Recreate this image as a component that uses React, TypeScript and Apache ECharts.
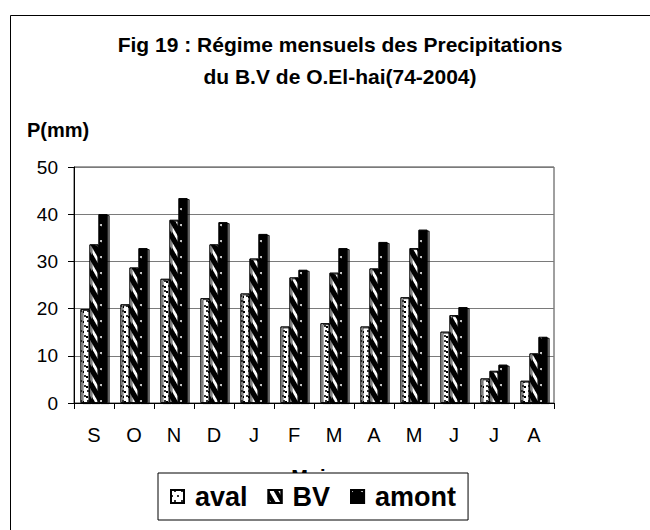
import React, { useEffect, useRef } from 'react';
import * as echarts from 'echarts';

const months = ['S', 'O', 'N', 'D', 'J', 'F', 'M', 'A', 'M', 'J', 'J', 'A'];
const aval = [19.9, 20.9, 26.3, 22.2, 23.2, 16.2, 16.9, 16.2, 22.4, 15.1, 5.2, 4.7];
const bv = [33.6, 28.7, 38.8, 33.6, 30.6, 26.6, 27.6, 28.5, 32.8, 18.6, 6.8, 10.5];
const amont = [40.0, 32.8, 43.4, 38.3, 35.8, 28.2, 32.8, 34.1, 36.7, 20.3, 8.1, 14.0];
const seriesNames = ['aval', 'BV', 'amont'];
const yMin = 0;
const yMax = 50;
const yInterval = 10;

const titleLine1 = 'Fig 19 : Régime mensuels des Precipitations';
const titleLine2 = 'du B.V de O.El-hai(74-2004)';
const yName = 'P(mm)';
const xName = 'Mois';

const FONT = '"Liberation Sans", Arial, sans-serif';

export default function App() {
  const ref = useRef<HTMLDivElement>(null);
  useEffect(() => {
    if (!ref.current) return;
    const chart = echarts.init(ref.current, null, { renderer: 'svg' });
    const shadow = {
      shadowColor: 'rgba(0,0,0,0.45)',
      shadowOffsetX: 2,
      shadowOffsetY: 1,
      shadowBlur: 0,
    };
    const option: any = {
      animation: false,
      backgroundColor: '#fff',
      textStyle: { fontFamily: FONT },
      title: {
        text: titleLine1 + '\n' + titleLine2,
        left: 335,
        top: 23,
        textAlign: 'center',
        textStyle: {
          fontFamily: FONT,
          fontSize: 21,
          fontWeight: 'bold',
          color: '#000',
          lineHeight: 32,
        },
      },
      graphic: [
        {
          type: 'rect',
          silent: true,
          shape: { x: 10.5, y: 15.5, width: 700, height: 600 },
          style: { fill: 'none', stroke: '#000', lineWidth: 1 },
          z: 0,
        },
        {
          type: 'text',
          x: 27,
          y: 130,
          style: {
            text: yName,
            fontFamily: FONT,
            fontSize: 20,
            fontWeight: 'bold',
            fill: '#000',
            textVerticalAlign: 'middle',
          },
        },
      ],
      legend: {
        data: seriesNames.map((n) => ({ name: n, icon: 'rect' })),
        left: 158,
        top: 473,
        padding: [10, 12],
        itemWidth: 13,
        itemHeight: 13,
        itemGap: 20,
        backgroundColor: '#fff',
        borderColor: '#000',
        borderWidth: 1,
        borderRadius: 0,
        z: 10,
        textStyle: {
          fontFamily: FONT,
          fontSize: 27,
          fontWeight: 'bold',
          color: '#000',
          padding: [0, 0, 0, 6],
        },
      },
      grid: {
        left: 74,
        right: 96,
        top: 167,
        bottom: 127,
        show: true,
        borderColor: '#404040',
        borderWidth: 1,
        backgroundColor: 'transparent',
      },
      xAxis: {
        type: 'category',
        data: months,
        boundaryGap: true,
        name: xName,
        nameLocation: 'middle',
        nameGap: 64,
        nameTextStyle: { fontFamily: FONT, fontSize: 20, fontWeight: 'bold', color: '#000' },
        axisLine: { lineStyle: { color: '#000', width: 1 } },
        axisTick: { show: true, inside: false, length: 6, alignWithLabel: false, lineStyle: { color: '#000' } },
        axisLabel: { fontFamily: FONT, fontSize: 20, color: '#000', margin: 22 },
        splitLine: { show: false },
      },
      yAxis: {
        type: 'value',
        min: yMin,
        max: yMax,
        interval: yInterval,
        axisLine: { show: true, lineStyle: { color: '#000', width: 1 } },
        axisTick: { show: true, inside: false, length: 6, lineStyle: { color: '#000' } },
        axisLabel: { fontFamily: FONT, fontSize: 19, color: '#000', margin: 16 },
        splitLine: { show: true, lineStyle: { color: '#7a7a7a', width: 1 } },
      },
      series: [
        {
          name: seriesNames[0],
          type: 'bar',
          data: aval,
          barWidth: 9,
          barGap: '0%',
          itemStyle: {
            color: '#fff',
            borderColor: '#000',
            borderWidth: 0.8,
            ...shadow,
            decal: {
              symbol: 'rect',
              symbolSize: 1,
              color: '#333',
              dashArrayX: [[1.2, 3.8], [0, 2.5, 1.2, 1.3]],
              dashArrayY: [1.2, 2.3],
              rotation: 0,
            },
          },
        },
        {
          name: seriesNames[1],
          type: 'bar',
          data: bv,
          barWidth: 9,
          barGap: '0%',
          itemStyle: {
            color: '#fff',
            borderColor: '#000',
            borderWidth: 0.8,
            ...shadow,
            decal: {
              symbol: 'rect',
              symbolSize: 1,
              color: '#000',
              dashArrayX: [1, 0],
              dashArrayY: [3.8, 3.6],
              rotation: Math.PI / 3,
            },
          },
        },
        {
          name: seriesNames[2],
          type: 'bar',
          data: amont,
          barWidth: 9,
          barGap: '0%',
          itemStyle: {
            color: '#000',
            borderColor: '#000',
            borderWidth: 0.8,
            ...shadow,
            decal: {
              symbol: 'circle',
              symbolSize: 1,
              color: '#ddd',
              dashArrayX: [1.5, 7.5],
              dashArrayY: [1.5, 13.5],
              rotation: 0,
            },
          },
        },
      ],
    };
    chart.setOption(option);
    return () => {
      chart.dispose();
    };
  }, []);
  return (
    <div
      ref={ref}
      style={{ position: 'fixed', left: 0, top: 0, width: 650, height: 530 }}
    />
  );
}
